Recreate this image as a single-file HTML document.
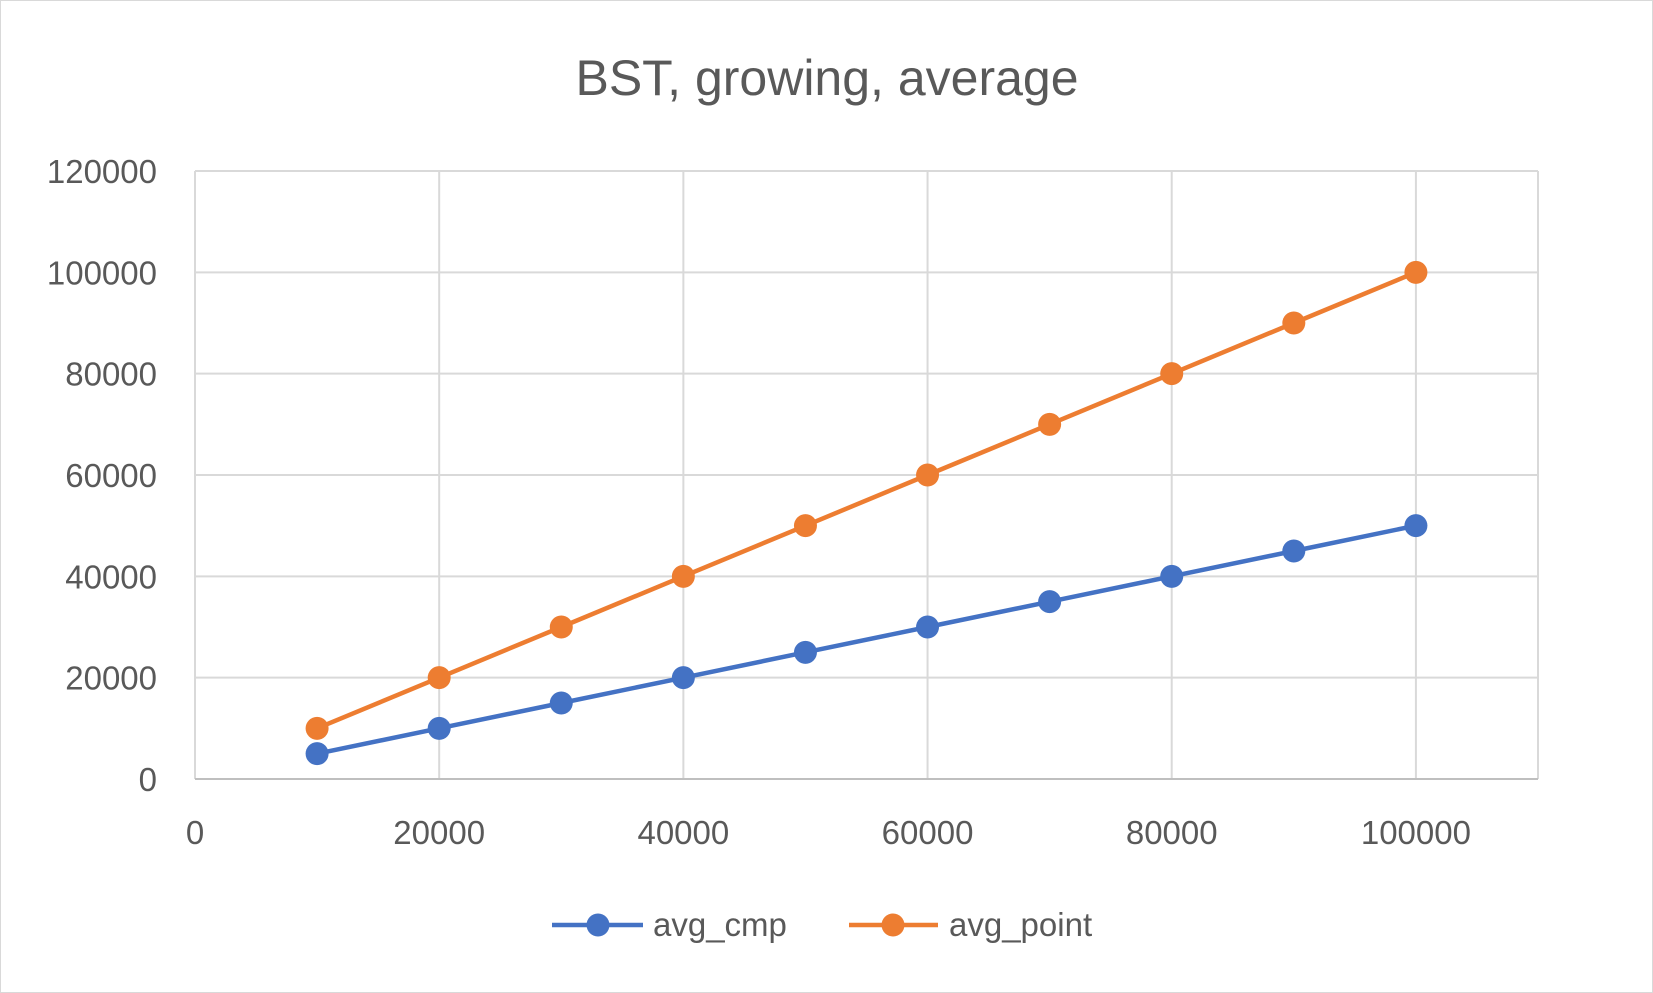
<!DOCTYPE html>
<html><head><meta charset="utf-8"><style>
html,body{margin:0;padding:0;background:#fff;}
svg{display:block;font-family:"Liberation Sans",sans-serif;}
</style></head><body>
<svg id="chart" width="1653" height="993" viewBox="0 0 1653 993" xmlns="http://www.w3.org/2000/svg">
<rect x="0.5" y="0.5" width="1652" height="992" fill="#fff" stroke="#d9d9d9"/>
<text x="827" y="95" text-anchor="middle" font-size="50" fill="#595959">BST, growing, average</text>
<g id="grid"></g>
<g id="axes"></g>
<g id="series"></g>
<g>
<g>
<line x1="552" y1="925" x2="643" y2="925" stroke="#4472C4" stroke-width="4.5"/>
<circle cx="598" cy="925" r="11.5" fill="#4472C4"/>
<text x="653" y="936" font-size="33" fill="#595959">avg_cmp</text></g>
<g>
<line x1="849" y1="925" x2="938" y2="925" stroke="#ED7D31" stroke-width="4.5"/>
<circle cx="893" cy="925" r="11.5" fill="#ED7D31"/>
<text x="949" y="936" font-size="33" fill="#595959">avg_point</text></g>
</g>
</svg>
<script>
const xValues=[10000,20000,30000,40000,50000,60000,70000,80000,90000,100000];
const avgCmp=[5000,10000,15000,20000,25000,30000,35000,40000,45000,50000];
const avgPoint=[10000,20000,30000,40000,50000,60000,70000,80000,90000,100000];
const yTicks=[0,20000,40000,60000,80000,100000,120000];
const xTicks=[0,20000,40000,60000,80000,100000];
const NS="http://www.w3.org/2000/svg";
const L=195,R=1538,T=171,B=779,XMAX=110000,YMAX=120000;
const sx=v=>L+(R-L)*v/XMAX, sy=v=>B-(B-T)*v/YMAX;
function mk(tag,attrs,parent){const e=document.createElementNS(NS,tag);for(const k in attrs)e.setAttribute(k,attrs[k]);parent.appendChild(e);return e;}
const grid=document.getElementById('grid'),axes=document.getElementById('axes'),ser=document.getElementById('series');
yTicks.forEach(v=>{
 if(v>0){const g=mk('line',{x1:L,x2:R,y1:sy(v),y2:sy(v),stroke:'#d9d9d9','stroke-width':2},grid);
 
 }
 const t=mk('text',{x:L-38,y:sy(v)+12,'text-anchor':'end','font-size':33,fill:'#595959'},axes);t.textContent=v;
 
 
});
xTicks.forEach(v=>{
 if(v>0){const g=mk('line',{x1:sx(v),x2:sx(v),y1:T,y2:B,stroke:'#d9d9d9','stroke-width':2},grid);
 
 }
 const t=mk('text',{x:sx(v),y:844,'text-anchor':'middle','font-size':33,fill:'#595959'},axes);t.textContent=v;
 
 
});
[L,R].forEach(x=>{const g=mk('line',{x1:x,x2:x,y1:T,y2:B,stroke:'#d9d9d9','stroke-width':2},grid);
 
 });
const ax=mk('line',{x1:L,x2:R,y1:B,y2:B,stroke:'#bfbfbf','stroke-width':2},axes);


function drawSeries(vals,color,name){
 const p=mk('polyline',{points:vals.map((v,i)=>sx(xValues[i])+','+sy(v)).join(' '),fill:'none',stroke:color,'stroke-width':4.5,'stroke-linejoin':'round'},ser);
 
 
 vals.forEach((v,i)=>{const c=mk('circle',{cx:sx(xValues[i]),cy:sy(v),r:11.5,fill:color},ser);
 
 });
}
drawSeries(avgCmp,'#4472C4','avg-cmp');
drawSeries(avgPoint,'#ED7D31','avg-point');
</script>
</body></html>
